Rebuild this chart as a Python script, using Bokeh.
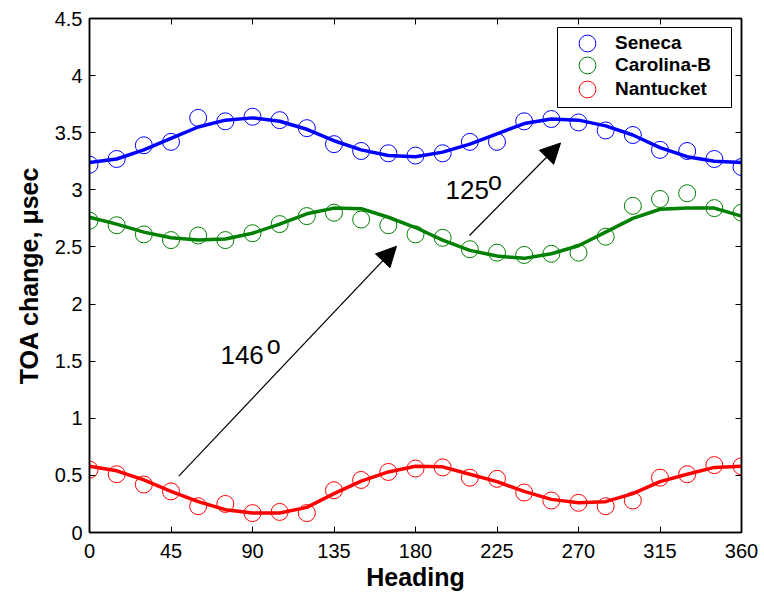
from bokeh.plotting import figure
from bokeh.models import (LinearAxis, FixedTicker, Range1d, Label, Arrow,
                          NormalHead, Legend, LegendItem, BoxAnnotation)
from bokeh.embed import file_html
from bokeh.resources import INLINE

# ---------------- data ----------------
heading = [0, 15, 30, 45, 60, 75, 90, 105, 120, 135, 150, 165, 180,
           195, 210, 225, 240, 255, 270, 285, 300, 315, 330, 345, 360]

seneca = [3.22, 3.27, 3.39, 3.42, 3.63, 3.60, 3.64, 3.61, 3.54, 3.40, 3.34, 3.32, 3.30,
          3.32, 3.42, 3.42, 3.60, 3.62, 3.59, 3.52, 3.48, 3.35, 3.34, 3.27, 3.20]
carolina = [2.73, 2.69, 2.61, 2.56, 2.60, 2.56, 2.62, 2.70, 2.77, 2.80, 2.74, 2.69, 2.61,
            2.58, 2.48, 2.45, 2.43, 2.44, 2.45, 2.59, 2.86, 2.92, 2.97, 2.84, 2.80]
nantucket = [0.55, 0.51, 0.42, 0.36, 0.23, 0.25, 0.17, 0.18, 0.17, 0.37, 0.46, 0.53, 0.56,
             0.57, 0.48, 0.47, 0.35, 0.28, 0.26, 0.23, 0.28, 0.48, 0.51, 0.59, 0.58]

seneca_fit = [3.24, 3.27, 3.35, 3.45, 3.55, 3.61, 3.63, 3.60, 3.53, 3.43, 3.35, 3.30, 3.29,
              3.33, 3.40, 3.49, 3.58, 3.62, 3.61, 3.56, 3.48, 3.37, 3.29, 3.25, 3.24]
carolina_fit = [2.76, 2.70, 2.63, 2.58, 2.56, 2.57, 2.62, 2.70, 2.79, 2.84, 2.835, 2.76, 2.67,
                2.56, 2.47, 2.42, 2.40, 2.44, 2.51, 2.63, 2.75, 2.83, 2.84, 2.84, 2.77]
nantucket_fit = [0.58, 0.54, 0.46, 0.36, 0.27, 0.20, 0.17, 0.17, 0.22, 0.34, 0.45, 0.53, 0.58,
                 0.575, 0.51, 0.445, 0.36, 0.29, 0.26, 0.27, 0.34, 0.445, 0.51, 0.57, 0.58]

series_names = ["Seneca", "Carolina-B", "Nantucket"]
series_colors = ["#0000FF", "#008000", "#FF0000"]

x_ticks = [0, 45, 90, 135, 180, 225, 270, 315, 360]
x_tick_labels = ["0", "45", "90", "135", "180", "225", "270", "315", "360"]
y_ticks = [0, 0.5, 1, 1.5, 2, 2.5, 3, 3.5, 4, 4.5]
y_tick_labels = ["0", "0.5", "1", "1.5", "2", "2.5", "3", "3.5", "4", "4.5"]

# phase-shift annotations: arrows (data coords) and their labels
arrow_x_start = [49.3, 209.8]
arrow_y_start = [0.494, 2.60]
arrow_x_end = [169.5, 260.1]
arrow_y_end = [2.506, 3.41]
angle_texts = ["146", "125"]
angle_text_x = [72.3, 196.6]
angle_text_y = [1.551, 2.999]
degree_x = [97.9, 220.0]
degree_y = [1.643, 3.074]

FONT = "Liberation Sans"

# ---------------- figure ----------------
p = figure(width=762, height=597, output_backend="svg", toolbar_location=None,
           x_range=Range1d(0, 360), y_range=Range1d(0, 4.5),
           min_border_left=89, min_border_right=21, min_border_top=18,
           min_border_bottom=65)
p.background_fill_color = "white"
p.border_fill_color = "white"
p.outline_line_color = "black"
p.outline_line_width = 1.5
p.xgrid.visible = False
p.ygrid.visible = False


def style_axis(ax, ticks, labels, show_labels=True):
    ax.ticker = FixedTicker(ticks=ticks)
    ax.major_tick_in = 6
    ax.major_tick_out = 0
    ax.minor_tick_line_color = None
    ax.axis_line_color = "black"
    ax.axis_line_width = 1.5
    ax.major_tick_line_color = "black"
    ax.major_tick_line_width = 1
    if show_labels:
        ax.major_label_overrides = dict(zip(ticks, labels))
        ax.major_label_text_font = FONT
        ax.major_label_text_font_size = "20px"
        ax.major_label_text_color = "black"
    else:
        # mirror axis (ticks only, labels not drawn)
        ax.major_label_text_font_size = "1px"
        ax.major_label_text_color = None
        ax.major_label_text_alpha = 0
        ax.major_label_standoff = 0


xax = p.below[0]
yax = p.left[0]
style_axis(xax, x_ticks, x_tick_labels)
style_axis(yax, y_ticks, y_tick_labels)
xax.major_label_standoff = 11
yax.major_label_standoff = 7
xax.axis_label = "Heading"
yax.axis_label = "TOA change, \u03bcsec"
for ax in (xax, yax):
    ax.axis_label_text_font = FONT
    ax.axis_label_text_font_style = "bold"
    ax.axis_label_text_font_size = "25px"
    ax.axis_label_text_color = "black"
xax.axis_label_standoff = 2
yax.axis_label_standoff = 9

top_ax = LinearAxis()
style_axis(top_ax, x_ticks, x_tick_labels, show_labels=False)
p.add_layout(top_ax, "above")
right_ax = LinearAxis()
style_axis(right_ax, y_ticks, y_tick_labels, show_labels=False)
p.add_layout(right_ax, "right")

# ---------------- data marks ----------------
renderers = []
for color, pts, fit in zip(series_colors,
                           [seneca, carolina, nantucket],
                           [seneca_fit, carolina_fit, nantucket_fit]):
    r = p.scatter(heading, pts, marker="circle", size=17, fill_color=None,
                  line_color=color, line_width=1)
    p.line(heading, fit, line_color=color, line_width=3.5)
    renderers.append(r)

# ---------------- legend (box + one legend per entry) ----------------
legend_box = BoxAnnotation(left=468, right=642, bottom=425, top=505,
                           left_units="screen", right_units="screen",
                           top_units="screen", bottom_units="screen",
                           fill_color="white", fill_alpha=1,
                           line_color="black", line_width=1, line_alpha=1)
p.add_layout(legend_box)

legend_bottoms = [468, 446, 422]
for name, r, yb in zip(series_names, renderers, legend_bottoms):
    lg = Legend(items=[LegendItem(label=name, renderers=[r])],
                location=(477, yb), margin=0, padding=0, spacing=0,
                glyph_width=42, glyph_height=42, label_height=42,
                label_width=100, label_standoff=7,
                label_text_font=FONT, label_text_font_style="bold",
                label_text_font_size="19px", label_text_color="black",
                border_line_color=None, background_fill_alpha=0)
    p.add_layout(lg)

# ---------------- annotations ----------------
for i in range(len(arrow_x_start)):
    p.add_layout(Arrow(end=NormalHead(size=20, fill_color="black",
                                      line_color="black", line_width=1),
                       x_start=arrow_x_start[i], y_start=arrow_y_start[i],
                       x_end=arrow_x_end[i], y_end=arrow_y_end[i],
                       line_color="black", line_width=1.2))
    p.add_layout(Label(x=angle_text_x[i], y=angle_text_y[i], text=angle_texts[i],
                       text_font=FONT, text_font_size="26px", text_color="black",
                       text_align="left", text_baseline="alphabetic"))
    p.add_layout(Label(x=degree_x[i], y=degree_y[i], text="o",
                       text_font=FONT, text_font_size="25px", text_color="black",
                       text_align="left", text_baseline="alphabetic"))

open("out.html", "w").write(file_html(p, INLINE))
